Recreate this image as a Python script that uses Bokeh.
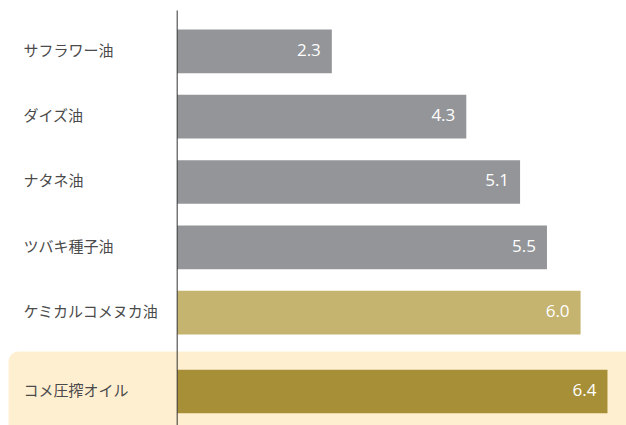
from bokeh.plotting import figure
from bokeh.models import Range1d, ColumnDataSource
from bokeh.core.properties import value
from bokeh.embed import file_html
from bokeh.resources import INLINE

# ---- data (top to bottom) ----
oils = ["サフラワー油", "ダイズ油", "ナタネ油", "ツバキ種子油", "ケミカルコメヌカ油", "コメ圧搾オイル"]
values = [2.3, 4.3, 5.1, 5.5, 6.0, 6.4]
colors = ["#939598", "#939598", "#939598", "#939598", "#C5B370", "#A68F36"]
highlight = [False, False, False, False, False, True]

# ---- layout constants ----
GROUP_GAP = 0.21
BAR_H = 0.67
W, H = 626, 425
X_START, X_END = -2.628, 6.683
Y_START, Y_END = -5.731, 0.781
BAND_LEFT = -2.509
AXIS_TOP = 0.628

ys = [-(i) - (GROUP_GAP if h else 0) for i, h in enumerate(highlight)]
labels = [f"{v:.1f}" for v in values]

src = ColumnDataSource(dict(oil=oils, val=values, color=colors, y=ys, lab=labels))

p = figure(width=W, height=H, output_backend="svg", toolbar_location=None,
           x_range=Range1d(X_START, X_END), y_range=Range1d(Y_START, Y_END),
           min_border=0, min_border_left=0, min_border_right=0,
           min_border_top=0, min_border_bottom=0)
p.axis.visible = False
p.grid.visible = False
p.outline_line_color = None
p.background_fill_color = "white"
p.border_fill_color = "white"

# highlight band behind the emphasized row
hy = [y for y, h in zip(ys, highlight) if h]
p.hbar(y=hy, left=BAND_LEFT, right=X_END + 1, height=2 * 0.613,
       fill_color="#FFEFD1", line_color=None, border_radius=(10, 0, 0, 0))

p.hbar(y="y", left=0, right="val", height=BAR_H, fill_color="color",
       line_color=None, source=src)

# value axis baseline
p.segment(x0=[0], y0=[AXIS_TOP], x1=[0], y1=[Y_START], line_color="#333333", line_width=1)

p.text(x=0, y="y", text="oil", x_offset=-153.7, y_offset=-2, text_align="left",
       text_baseline="middle", text_font=value("Noto Sans CJK JP"),
       text_font_size="15px", text_color="#4a4a4a", source=src)

p.text(x="val", y="y", text="lab", x_offset=-11, y_offset=-1.5, text_align="right",
       text_baseline="middle", text_font=value("Open Sans"),
       text_font_size="17px", text_color="white", source=src)

open("out.html", "w").write(file_html(p, INLINE))
